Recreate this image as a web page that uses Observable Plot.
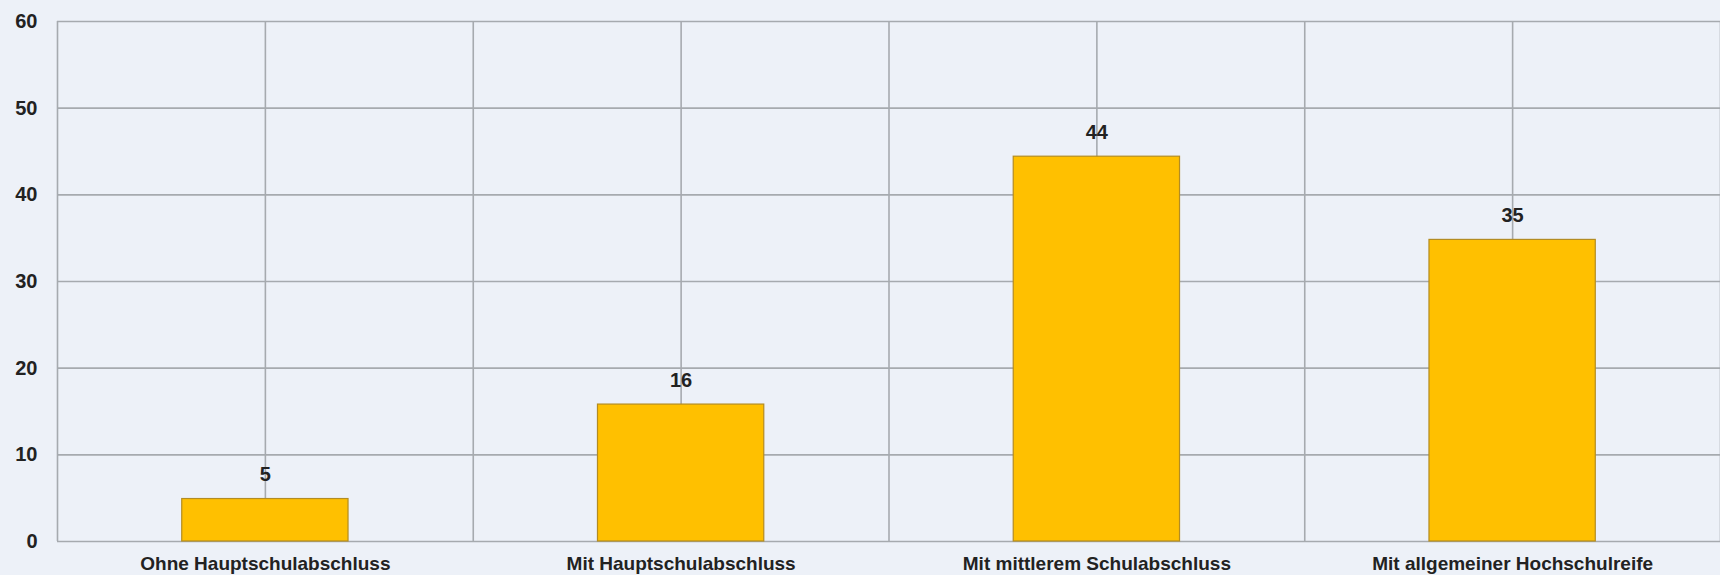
<!DOCTYPE html>
<html>
<head>
<meta charset="utf-8">
<script src="https://cdn.jsdelivr.net/npm/d3@7"></script>
<script src="https://cdn.jsdelivr.net/npm/@observablehq/plot@0.6"></script>
<style>
  html, body { margin: 0; padding: 0; background: #edf1f8; }
  #chart svg { display: block; }
</style>
</head>
<body>
<div id="chart"></div>
<script>
const categories = [
  "Ohne Hauptschulabschluss",
  "Mit Hauptschulabschluss",
  "Mit mittlerem Schulabschluss",
  "Mit allgemeiner Hochschulreife"
];
const values = [4.9, 15.8, 44.4, 34.8];
const yTicks = [0, 10, 20, 30, 40, 50, 60];

const data = categories.map((c, i) => ({ cat: c, i, value: values[i] }));
const xCenters = categories.map((c, i) => i + 0.5);
const xGrid = d3.range(0, categories.length * 2 + 1).map(k => k / 2);

const gridColor = "#a6aaaf";

const chart = Plot.plot({
  width: 1720,
  height: 575,
  marginLeft: 57,
  marginRight: 0,
  marginTop: 21,
  marginBottom: 34,
  style: {
    background: "#edf1f8",
    fontFamily: "'Liberation Sans', Arial, sans-serif",
    fontWeight: "bold",
    color: "#222"
  },
  x: { type: "linear", domain: [0, categories.length], axis: null },
  y: { domain: [0, 60], axis: null },
  marks: [
    Plot.ruleY(yTicks, { stroke: gridColor, strokeWidth: 1.6 }),
    Plot.ruleX(xGrid, { stroke: gridColor, strokeWidth: 1.6 }),
    Plot.rectY(data, {
      x1: d => d.i + 0.3,
      x2: d => d.i + 0.7,
      y: "value",
      fill: "#ffc000",
      stroke: "#b38c22",
      strokeWidth: 1.2
    }),
    Plot.text(data, {
      x: d => d.i + 0.5,
      y: "value",
      text: d => d3.format(".0f")(d.value),
      dy: -24,
      fontSize: 20,
      fontWeight: "bold",
      fill: "#222"
    }),
    Plot.axisY({
      ticks: yTicks,
      tickSize: 0,
      tickPadding: 20,
      fontSize: 20,
      fontWeight: "bold",
      label: null
    }),
    Plot.axisX({
      ticks: xCenters,
      tickFormat: d => categories[Math.floor(d)],
      tickSize: 0,
      tickPadding: 15,
      fontSize: 19,
      fontWeight: "bold",
      letterSpacing: "-0.3px",
      label: null
    })
  ]
});
document.getElementById("chart").append(chart);
</script>
</body>
</html>
